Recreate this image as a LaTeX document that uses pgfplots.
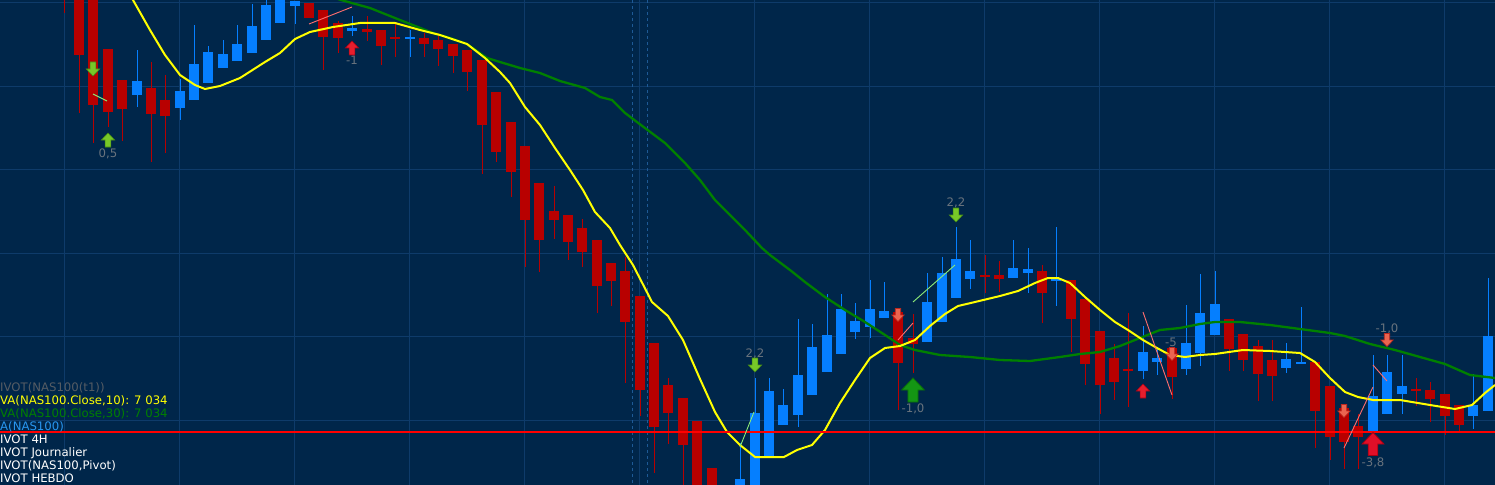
\documentclass[border=0pt]{standalone}
\usepackage{pgfplots}
\usepackage{pgfplotstable}
\pgfplotsset{compat=1.18}
\usepackage{fontspec}
\setmainfont{DejaVu Sans}

\definecolor{bgc}{RGB}{0,38,74}
\definecolor{gridc}{RGB}{14,59,106}
\definecolor{sepc}{RGB}{30,90,150}
\definecolor{candred}{RGB}{184,0,0}
\definecolor{candblue}{RGB}{5,127,255}
\definecolor{maten}{RGB}{255,255,0}
\definecolor{mathirty}{RGB}{0,128,0}
\definecolor{lblgray}{RGB}{105,115,125}
\definecolor{leggray}{RGB}{85,92,100}
\definecolor{legblue}{RGB}{40,150,240}
\definecolor{pinkln}{RGB}{255,110,110}
\definecolor{greenln}{RGB}{140,235,120}

% block arrows for the signals
\pgfdeclareplotmark{uarr}{%
  \pgfpathmoveto{\pgfqpoint{-0.42\pgfplotmarksize}{-\pgfplotmarksize}}%
  \pgfpathlineto{\pgfqpoint{0.42\pgfplotmarksize}{-\pgfplotmarksize}}%
  \pgfpathlineto{\pgfqpoint{0.42\pgfplotmarksize}{0pt}}%
  \pgfpathlineto{\pgfqpoint{0.95\pgfplotmarksize}{0pt}}%
  \pgfpathlineto{\pgfqpoint{0pt}{\pgfplotmarksize}}%
  \pgfpathlineto{\pgfqpoint{-0.95\pgfplotmarksize}{0pt}}%
  \pgfpathlineto{\pgfqpoint{-0.42\pgfplotmarksize}{0pt}}%
  \pgfpathclose
  \pgfusepathqfillstroke}
\pgfdeclareplotmark{darr}{%
  \pgfpathmoveto{\pgfqpoint{-0.42\pgfplotmarksize}{\pgfplotmarksize}}%
  \pgfpathlineto{\pgfqpoint{0.42\pgfplotmarksize}{\pgfplotmarksize}}%
  \pgfpathlineto{\pgfqpoint{0.42\pgfplotmarksize}{0pt}}%
  \pgfpathlineto{\pgfqpoint{0.95\pgfplotmarksize}{0pt}}%
  \pgfpathlineto{\pgfqpoint{0pt}{-\pgfplotmarksize}}%
  \pgfpathlineto{\pgfqpoint{-0.95\pgfplotmarksize}{0pt}}%
  \pgfpathlineto{\pgfqpoint{-0.42\pgfplotmarksize}{0pt}}%
  \pgfpathclose
  \pgfusepathqfillstroke}

\newcommand\lab{\fontsize{11.7bp}{13bp}\selectfont}

% candles, screen units (y grows downwards): body top/bottom, wick top/bottom
\pgfplotstableread{
x bt bb wt wb
64 -40 -20 -40 13
79 -20 55 -20 113
93 -10 105 -10 143
108 49 112 49 127
122 80 109 80 141
151 88 114 62 162
165 100 116 75 153
309 3 18 3 18
323 10 37 10 70
338 23 38 21 53
367 29 32 16 41
381 30 46 30 65
395 37.5 39 23 57
424 38 44 33 57
438 40 49 33 66
453 44 56 44 73
467 50 72 50 91
482 60 125 60 174
496 92 152 92 162
511 122 172 122 197
525 146 220 146 267
539 183 240 183 272
554 211 220 186 239
568 215 242 215 260
582 228 252 219 267
597 240 286 240 313
611 263 281 263 306
625 271 322 257 383
640 296 390 296 416
654 343 427 343 473
668 385 413 378 444
683 398 445 398 495
697 421 495 421 495
712 468 495 468 495
898 312 363 312 410
913 338 344 314 373
985 275 277 255 293
999 275 279 261 292
1042 271 293 265 323
1071 280 319 280 352
1085 299 364 299 385
1100 331 385 331 414
1114 358 382 344 400
1128 369 371 313 407
1172 348 377 348 399
1229 319 349 319 371
1243 334 360 334 371
1258 346 374 340 401
1272 360 376 340 401
1315 362 411 362 448
1330 386 437 386 460
1344 408 442 408 469
1358 426 437 414 469
1416 389 391 378 406
1430 390 399 382 422
1445 394 416 394 435
1459 405 425 405 431
}\redc

\pgfplotstableread{
x bt bb wt wb
137 81 95 50 107
180 91 108 79 120
194 64 100 25 100
208 52 83 46 83
223 54 68 40 68
237 44 61 25 61
252 26 53 4 53
266 5 40 -5 40
280 -5 23 -10 23
295 1 6 1 24
352 28 31 16 36
410 37 39 30 57
740 479 495 443 495
755 413 495 378 495
769 391 456 378 456
783 405 425 389 425
798 375 415 319 427
812 347 395 324 395
827 335 372 294 372
841 309 354 294 354
855 321 332 303 339
870 309 327 280 338
884 311 318 282 318
927 302 342 273 342
942 273 322 257 322
956 259 298 227 298
970 271 279 240 289
1013 268 278 240 278
1028 269 273 248 293
1056 278 281 227 306
1143 352 371 326 379
1157 358 362 347 375
1186 343 369 305 375
1200 313 353 274 366
1215 304 335 271 335
1286 359 368 343 373
1301 362 364 307 364
1373 396 432 355 432
1387 372 414 355 414
1402 386 394 355 414
1473 405 416 374 429
1488 336 411 278 411
}\bluec

\begin{document}
\begin{tikzpicture}
\clip[use as bounding box] (0,0) rectangle (1495bp,485bp);
\begin{axis}[
  at={(0,0)}, anchor=south west,
  width=1495bp, height=485bp, scale only axis,
  xmin=0, xmax=1495, ymin=0, ymax=485, y dir=reverse,
  axis background/.style={fill=bgc},
  axis line style={draw=none},
  major tick length=0pt,
  xtick={64,179,...,1444},
  ytick={3,86.4,169.8,253.2,336.6,420},
  xticklabels={}, yticklabels={},
  grid=major, grid style={draw=gridc, line width=1bp},
]
% session separators
\addplot[sepc, line width=1bp, dash pattern=on 3bp off 3bp] coordinates {(632,0) (632,485)};
\addplot[sepc, line width=1bp, dash pattern=on 3bp off 3bp] coordinates {(647,0) (647,485)};

% wicks and bodies
\addplot[draw=none, mark=none, error bars/.cd, y dir=both, y explicit, error mark=none,
  error bar style={draw=candred, line width=1bp}]
  table[x=x, y expr=(\thisrow{wt}+\thisrow{wb})/2, y error expr=(\thisrow{wb}-\thisrow{wt})/2] {\redc};
\addplot[draw=none, mark=none, error bars/.cd, y dir=both, y explicit, error mark=none,
  error bar style={draw=candred, line width=9.5bp}]
  table[x=x, y expr=(\thisrow{bt}+\thisrow{bb})/2, y error expr=(\thisrow{bb}-\thisrow{bt})/2] {\redc};
\addplot[draw=none, mark=none, error bars/.cd, y dir=both, y explicit, error mark=none,
  error bar style={draw=candblue, line width=1bp}]
  table[x=x, y expr=(\thisrow{wt}+\thisrow{wb})/2, y error expr=(\thisrow{wb}-\thisrow{wt})/2] {\bluec};
\addplot[draw=none, mark=none, error bars/.cd, y dir=both, y explicit, error mark=none,
  error bar style={draw=candblue, line width=9.5bp}]
  table[x=x, y expr=(\thisrow{bt}+\thisrow{bb})/2, y error expr=(\thisrow{bb}-\thisrow{bt})/2] {\bluec};

% moving averages
\addplot[mathirty, line width=2.3bp] coordinates {
(320,-7) (341,0) (370,8) (400,20) (433,33) (450,38) (467,44) (487,58) (500,62) (520,68)
(540,73) (560,81) (585,88) (600,97) (612,100) (625,113) (645,128) (665,143) (685,163)
(700,180) (715,200) (730,215) (745,230) (762,248) (770,255) (790,270) (805,282) (825,297)
(845,310) (865,322) (885,335) (900,345) (915,350) (940,355) (970,357) (1000,360) (1030,361)
(1060,357) (1080,354) (1100,352) (1120,346) (1140,338) (1160,330) (1180,328) (1200,324)
(1215,322) (1240,322) (1270,325) (1300,329) (1330,333) (1345,336) (1370,344) (1395,350)
(1420,357) (1445,364) (1470,375) (1495,378)};
\addplot[maten, line width=2bp] coordinates {
(120,-22) (133,0) (150,30) (165,55) (180,75) (195,85) (205,89) (220,86) (240,78) (265,62)
(280,53) (295,39) (310,32) (333,27) (360,23) (395,23) (420,30) (440,35) (455,40) (467,44)
(485,58) (500,72) (510,83) (525,107) (540,125) (555,148) (570,170) (583,190) (595,212)
(610,228) (620,245) (633,265) (652,302) (668,316) (683,340) (700,379) (715,412) (727,432)
(740,445) (755,457) (784,457) (797,450) (812,445) (825,430) (840,403) (855,380) (870,358)
(885,348) (900,346) (915,340) (930,326) (945,314) (958,306) (975,302) (1000,296) (1018,291)
(1035,283) (1048,278) (1058,278) (1070,283) (1085,297) (1100,310) (1115,322) (1128,330)
(1143,340) (1157,348) (1170,355) (1185,357) (1200,355) (1215,354) (1243,350) (1270,351)
(1300,353) (1315,362) (1330,378) (1345,392) (1358,397) (1373,400) (1400,400) (1430,405)
(1455,409) (1472,405) (1485,393) (1495,385)};

% pivot line
\addplot[red, line width=1.3bp] coordinates {(0,432) (1495,432)};

% thin signal segments
\addplot[pinkln, line width=0.9bp] coordinates {(309,24) (352,7)};
\addplot[pinkln, line width=0.9bp] coordinates {(898,340) (913,323)};
\addplot[pinkln, line width=0.9bp] coordinates {(1143,312) (1172,395)};
\addplot[pinkln, line width=0.9bp] coordinates {(1344,448) (1373,387)};
\addplot[pinkln, line width=0.9bp] coordinates {(1373,365) (1387,381)};
\addplot[greenln, line width=0.9bp] coordinates {(93,94) (107,101)};
\addplot[greenln, line width=0.9bp] coordinates {(740,447) (754,412)};
\addplot[greenln, line width=0.9bp] coordinates {(913,302) (955,265)};

% arrows
\addplot[only marks, mark=darr, mark size=7bp, mark options={fill={rgb,255:red,120;green,200;blue,40}, draw={rgb,255:red,70;green,140;blue,20}, line width=0.6bp}]
  coordinates {(93,69) (755,365) (956,215)};
\addplot[only marks, mark=uarr, mark size=7bp, mark options={fill={rgb,255:red,120;green,200;blue,40}, draw={rgb,255:red,70;green,140;blue,20}, line width=0.6bp}]
  coordinates {(108,140)};
\addplot[only marks, mark=uarr, mark size=12bp, mark options={fill={rgb,255:red,20;green,150;blue,20}, draw={rgb,255:red,10;green,110;blue,10}, line width=0.8bp}]
  coordinates {(913,390)};
\addplot[only marks, mark=uarr, mark size=7bp, mark options={fill={rgb,255:red,230;green,30;blue,45}, draw={rgb,255:red,170;green,0;blue,20}, line width=0.6bp}]
  coordinates {(352,48) (1143,391)};
\addplot[only marks, mark=darr, mark size=6.5bp, mark options={fill={rgb,255:red,235;green,100;blue,80}, draw={rgb,255:red,190;green,40;blue,30}, line width=0.6bp}]
  coordinates {(898,315) (1172,354) (1344,411) (1387,340)};
\addplot[only marks, mark=uarr, mark size=11.5bp, mark options={fill={rgb,255:red,225;green,15;blue,40}, draw={rgb,255:red,170;green,0;blue,20}, line width=0.8bp}]
  coordinates {(1373,444)};

% signal values
\node[anchor=base, inner sep=0pt, font=\lab, text=lblgray] at (axis cs:108,157) {0,5};
\node[anchor=base, inner sep=0pt, font=\lab, text=lblgray] at (axis cs:352,65) {-1};
\node[anchor=base, inner sep=0pt, font=\lab, text=lblgray] at (axis cs:755,357) {2,2};
\node[anchor=base, inner sep=0pt, font=\lab, text=lblgray] at (axis cs:956,206) {2,2};
\node[anchor=base, inner sep=0pt, font=\lab, text=lblgray] at (axis cs:913,412) {-1,0};
\node[anchor=base, inner sep=0pt, font=\lab, text=lblgray] at (axis cs:1171,346) {-5};
\node[anchor=base, inner sep=0pt, font=\lab, text=lblgray] at (axis cs:1373,466) {-3,8};
\node[anchor=base, inner sep=0pt, font=\lab, text=lblgray] at (axis cs:1387,332) {-1,0};

% indicator list, bottom left
\node[anchor=base west, inner sep=0pt, font=\lab, text=leggray] at (axis cs:0,391) {IVOT(NAS100(t1))};
\node[anchor=base west, inner sep=0pt, font=\lab, text=maten] at (axis cs:0,404) {VA(NAS100.Close,10): 7 034};
\node[anchor=base west, inner sep=0pt, font=\lab, text=mathirty] at (axis cs:0,417) {VA(NAS100.Close,30): 7 034};
\node[anchor=base west, inner sep=0pt, font=\lab, text=legblue] at (axis cs:0,430) {A(NAS100)};
\node[anchor=base west, inner sep=0pt, font=\lab, text=white] at (axis cs:0,443) {IVOT 4H};
\node[anchor=base west, inner sep=0pt, font=\lab, text=white] at (axis cs:0,456) {IVOT Journalier};
\node[anchor=base west, inner sep=0pt, font=\lab, text=white] at (axis cs:0,469) {IVOT(NAS100,Pivot)};
\node[anchor=base west, inner sep=0pt, font=\lab, text=white] at (axis cs:0,482) {IVOT HEBDO};
\end{axis}
\end{tikzpicture}
\end{document}
